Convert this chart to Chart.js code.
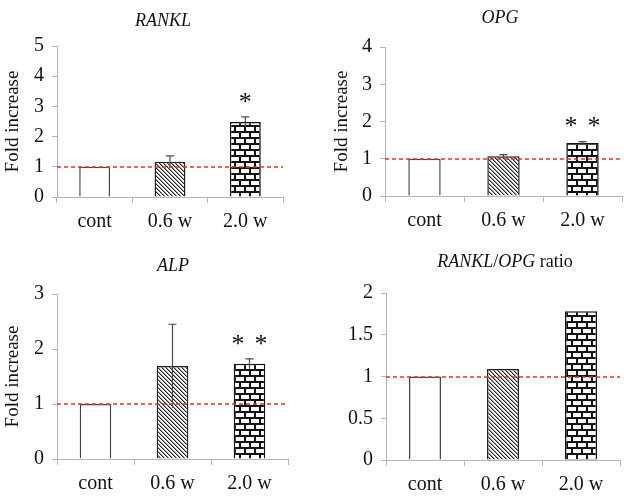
<!DOCTYPE html>
<html>
<head>
<meta charset="utf-8">
<script src="https://cdn.jsdelivr.net/npm/chart.js@4"></script>
<style>
  html, body { margin: 0; padding: 0; background: #fff; }
  #wrap { position: relative; width: 634px; height: 503px; }
  canvas { position: absolute; }
</style>
</head>
<body>
<div id="wrap">
  <canvas id="c1" width="317" height="250" style="left:0;top:0"></canvas>
  <canvas id="c2" width="317" height="250" style="left:317px;top:0"></canvas>
  <canvas id="c3" width="317" height="253" style="left:0;top:250px"></canvas>
  <canvas id="c4" width="317" height="253" style="left:317px;top:250px"></canvas>
</div>
<script>
// groups
const categories = ["cont", "0.6 w", "2.0 w"];

// RANKL
const ranklValues = [1, 1.17, 2.48];
const ranklErr = [0, 0.19, 0.17];
const ranklSig = [0, 0, 1];
// OPG
const opgValues = [1, 1.07, 1.42];
const opgErr = [0, 0.04, 0.04];
const opgSig = [0, 0, 2];
// ALP
const alpValues = [1, 1.69, 1.73];
const alpErr = [0, 0.76, 0.09];
const alpSig = [0, 0, 2];
// RANKL/OPG ratio
const ratioValues = [1, 1.09, 1.78];
const ratioErr = [0, 0, 0];
const ratioSig = [0, 0, 0];

const FONT = "'Liberation Serif', 'Times New Roman', serif";
const AXIS_GRAY = "#b5b5b5";

// fill patterns
function makeHatch() {
  const c = document.createElement("canvas");
  c.width = 4; c.height = 4;
  const g = c.getContext("2d");
  g.fillStyle = "#fff"; g.fillRect(0, 0, 4, 4);
  for (let i = 0; i < 4; i++) {
    g.fillStyle = "#222"; g.fillRect(i, i, 1, 1);
    g.fillStyle = "#999"; g.fillRect((i + 1) % 4, i, 1, 1);
  }
  return g.createPattern(c, "repeat");
}
function makeBrick() {
  const c = document.createElement("canvas");
  c.width = 10; c.height = 12;
  const g = c.getContext("2d");
  g.fillStyle = "#111"; g.fillRect(0, 0, 10, 12);
  g.fillStyle = "#fff";
  g.fillRect(1, 1, 8, 4);
  g.fillRect(0, 7, 4, 4);
  g.fillRect(6, 7, 4, 4);
  return g.createPattern(c, "repeat");
}
const hatch = makeHatch();
const brick = makeBrick();

// dashed line at 1, error bars, stars
const extras = {
  id: "extras",
  afterDatasetsDraw(chart) {
    const ctx = chart.ctx;
    const y = chart.scales.y;
    const area = chart.chartArea;
    const ds = chart.data.datasets[0];
    const meta = chart.getDatasetMeta(0);
    ctx.save();
    meta.data.forEach((bar, i) => {
      const v = ds.data[i], e = ds.err[i];
      let top = y.getPixelForValue(v);
      if (e > 0) {
        top = y.getPixelForValue(v + e);
        const bot = y.getPixelForValue(v - e);
        ctx.strokeStyle = "#4a4a4a";
        ctx.lineWidth = 1.2;
        ctx.beginPath();
        ctx.moveTo(bar.x, bot); ctx.lineTo(bar.x, top);
        ctx.moveTo(bar.x - 4, top); ctx.lineTo(bar.x + 4, top);
        ctx.stroke();
      }
      const n = ds.sig[i];
      if (n > 0) {
        ctx.fillStyle = "#111";
        ctx.font = "26px " + FONT;
        ctx.textAlign = "center";
        ctx.textBaseline = "middle";
        for (let k = 0; k < n; k++) {
          const sx = bar.x + (k - (n - 1) / 2) * 23;
          ctx.fillText("*", sx, top - 14);
        }
      }
    });
    const y1 = Math.round(y.getPixelForValue(1));
    ctx.strokeStyle = "#e8321e";
    ctx.lineWidth = 1.6;
    ctx.setLineDash([4, 3]);
    ctx.beginPath();
    ctx.moveTo(area.left, y1); ctx.lineTo(area.right, y1);
    ctx.stroke();
    ctx.restore();
  },
  afterDraw(chart, args, opts) {
    const ctx = chart.ctx;
    ctx.save();
    ctx.fillStyle = "#111";
    ctx.textBaseline = "middle";
    ctx.textAlign = "left";
    let w = 0;
    opts.parts.forEach(p => {
      ctx.font = (p.italic ? "italic " : "") + "18px " + FONT;
      w += ctx.measureText(p.text).width;
    });
    let x = opts.x - w / 2;
    opts.parts.forEach(p => {
      ctx.font = (p.italic ? "italic " : "") + "18px " + FONT;
      ctx.fillText(p.text, x, opts.y);
      x += ctx.measureText(p.text).width;
    });
    ctx.restore();
  }
};

function makePanel(id, values, err, sig, p) {
  new Chart(document.getElementById(id), {
    type: "bar",
    data: {
      labels: categories,
      datasets: [{
        data: values,
        err: err,
        sig: sig,
        backgroundColor: ["#ffffff", hatch, brick],
        borderColor: ["#444", "#222", "#111"],
        borderWidth: 1.5,
        barPercentage: 0.41,
        categoryPercentage: 1,
      }],
    },
    options: {
      responsive: false,
      animation: false,
      devicePixelRatio: 1,
      layout: { padding: p.pad },
      plugins: {
        legend: { display: false },
        tooltip: { enabled: false },
        extras: { parts: p.title, x: p.tx, y: p.ty },
      },
      scales: {
        x: {
          afterFit: s => { s.height = p.xh; },
          grid: { offset: true, drawOnChartArea: false, tickLength: 6, color: AXIS_GRAY },
          border: { color: AXIS_GRAY },
          ticks: { color: "#111", padding: 7, font: { family: FONT, size: 20 } },
        },
        y: {
          min: 0,
          max: p.max,
          afterFit: s => { s.width = p.yw; },
          ticks: {
            stepSize: p.step, color: "#111", padding: 8,
            font: { family: FONT, size: 20 },
            callback: v => String(v),
          },
          grid: { drawOnChartArea: false, tickLength: 5, color: AXIS_GRAY },
          border: { color: AXIS_GRAY },
          title: {
            display: p.ytitle,
            text: "Fold increase",
            color: "#111",
            padding: { top: 2, bottom: 0 },
            font: { family: FONT, size: 19 },
          },
        },
      },
    },
    plugins: [extras],
  });
}

makePanel("c1", ranklValues, ranklErr, ranklSig, {
  pad: { left: 0, top: 46, right: 34, bottom: 0 }, yw: 57, xh: 53,
  max: 5, step: 1, ytitle: true,
  title: [{ text: "RANKL", italic: true }], tx: 163, ty: 21,
});
makePanel("c2", opgValues, opgErr, opgSig, {
  pad: { left: 12, top: 47, right: 12, bottom: 0 }, yw: 56, xh: 54,
  max: 4, step: 1, ytitle: true,
  title: [{ text: "OPG", italic: true }], tx: 183, ty: 18,
});
makePanel("c3", alpValues, alpErr, alpSig, {
  pad: { left: 0, top: 44, right: 29, bottom: 0 }, yw: 57, xh: 44,
  max: 3, step: 1, ytitle: true,
  title: [{ text: "ALP", italic: true }], tx: 173, ty: 16,
});
makePanel("c4", ratioValues, ratioErr, ratioSig, {
  pad: { left: 0, top: 43, right: 14, bottom: 0 }, yw: 69, xh: 43,
  max: 2, step: 0.5, ytitle: false,
  title: [
    { text: "RANKL", italic: true },
    { text: "/", italic: false },
    { text: "OPG", italic: true },
    { text: " ratio", italic: false },
  ], tx: 188, ty: 12,
});
</script>
</body>
</html>
